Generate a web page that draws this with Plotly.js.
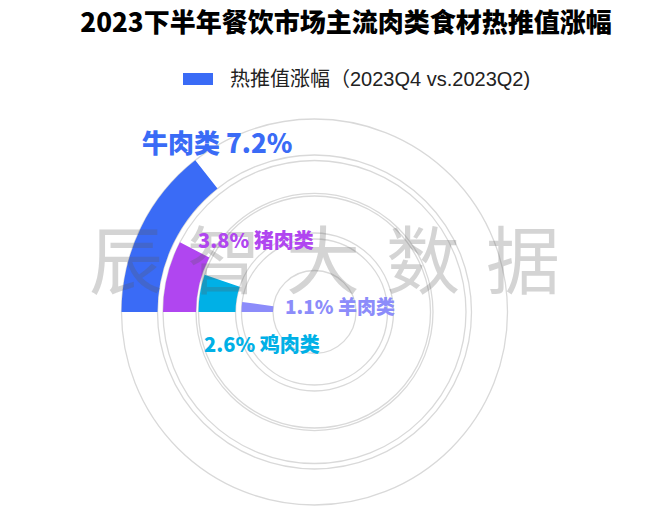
<!DOCTYPE html>
<html>
<head>
<meta charset="utf-8">
<script src="https://cdn.plot.ly/plotly-3.0.1.min.js"></script>
<style>html,body{margin:0;padding:0;background:#fff;}#chart{width:660px;height:522px;}</style>
</head>
<body>
<div id="chart"></div>
<script>
// ---- data ----
const chartTitle = '2023下半年餐饮市场主流肉类食材热推值涨幅';
const seriesName = '热推值涨幅（2023Q4 vs.2023Q2)';
const categories = ['牛肉类', '猪肉类', '鸡肉类', '羊肉类'];
const values = [7.2, 3.8, 2.6, 1.1];           // percent
const watermarkChars = ['辰', '智', '大', '数', '据'];

// ---- style ----
const colors = ['#3a6bf6', '#b046f0', '#00b0e6', '#8c8cfa'];
const ringInner = [157, 118.5, 79, 41.5];
const ringOuter = [193, 151.5, 116, 73];
const DEG_PER_PCT = 360 / 50;
const W = 660, H = 522;
const cx = 314.5, cy = 312, R = 195;
const FONT = '"Noto Sans CJK SC", "Noto Sans", sans-serif';
// label placement (pixels), and whether name comes first
const labelPos = [
  {x: 140, y: 141, size: 26, nameFirst: true},
  {x: 196, y: 239, size: 20, nameFirst: false},
  {x: 202, y: 343, size: 20, nameFirst: false},
  {x: 283, y: 305, size: 19, nameFirst: false}
];
const watermarkX = [126, 224, 323, 423, 523];

const px = x => x / W;
const py = y => 1 - y / H;

const trace = {
  type: 'barpolar',
  name: seriesName,
  theta: values.map(v => v * DEG_PER_PCT / 2),
  width: values.map(v => v * DEG_PER_PCT),
  base: ringInner,
  r: ringOuter.map((o, i) => o - ringInner[i]),
  text: categories,
  marker: {color: colors, line: {width: 0}},
  hoverinfo: 'text',
  showlegend: false
};

const annotations = [];
watermarkChars.forEach((ch, i) => {
  annotations.push({
    xref: 'paper', yref: 'paper', x: px(watermarkX[i]), y: py(256),
    xanchor: 'center', yanchor: 'middle', showarrow: false,
    text: ch,
    font: {family: FONT, size: 74, color: 'rgba(90,90,90,0.26)'}
  });
});
categories.forEach((c, i) => {
  const p = labelPos[i];
  const pct = values[i].toFixed(1) + '%';
  annotations.push({
    xref: 'paper', yref: 'paper', x: px(p.x), y: py(p.y),
    xanchor: 'left', yanchor: 'middle', showarrow: false,
    text: p.nameFirst ? c + ' ' + pct : pct + ' ' + c,
    font: {family: FONT, size: p.size, color: colors[i], weight: 900}
  });
});
annotations.push({
  xref: 'paper', yref: 'paper', x: px(228), y: py(79),
  xanchor: 'left', yanchor: 'middle', showarrow: false,
  text: seriesName,
  font: {family: '"Liberation Sans", "Noto Sans CJK SC", sans-serif', size: 20, color: '#222'}
});

const gridVals = ringInner.concat(ringOuter).sort((a, b) => a - b);

const layout = {
  width: W, height: H,
  margin: {l: 0, r: 0, t: 0, b: 0},
  paper_bgcolor: '#fff',
  title: {
    text: chartTitle,
    x: px(346), xanchor: 'center', y: py(23), yanchor: 'middle',
    font: {family: FONT, size: 26, color: '#000', weight: 900}
  },
  polar: {
    domain: {x: [px(cx - R), px(cx + R)], y: [py(cy + R), py(cy - R)]},
    bgcolor: 'rgba(0,0,0,0)',
    bargap: 0,
    radialaxis: {
      range: [0, R], tickvals: gridVals, showticklabels: false, ticks: '',
      showline: false, showgrid: true, gridcolor: '#d9d9d9', gridwidth: 1.3
    },
    angularaxis: {
      rotation: 180, direction: 'clockwise', range: [0, 360],
      showgrid: false, showline: false, showticklabels: false, ticks: ''
    }
  },
  shapes: [{
    type: 'rect', xref: 'paper', yref: 'paper',
    x0: px(183), x1: px(213), y0: py(85), y1: py(73),
    fillcolor: colors[0], line: {width: 0}
  }],
  annotations: annotations,
  showlegend: false
};

Plotly.newPlot('chart', [trace], layout, {displayModeBar: false, staticPlot: true});
</script>
</body>
</html>
